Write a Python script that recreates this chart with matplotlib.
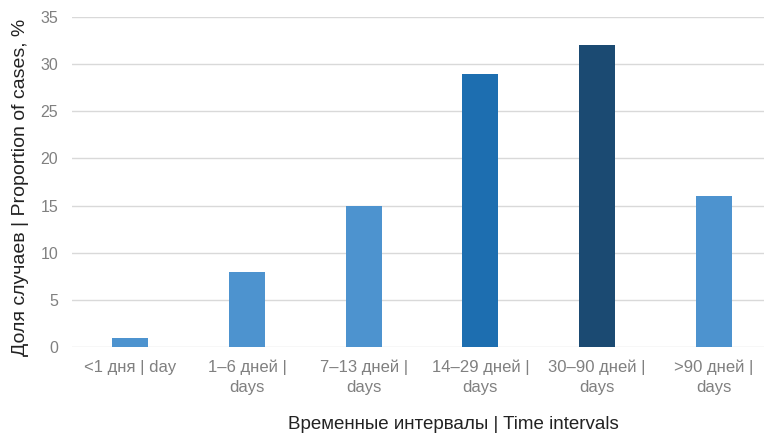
import matplotlib.pyplot as plt

plt.rcParams['font.family'] = ['Liberation Sans', 'DejaVu Sans']

categories = ['<1 дня | day', '1–6 дней |\ndays', '7–13 дней |\ndays',
              '14–29 дней |\ndays', '30–90 дней |\ndays', '>90 дней |\ndays']
values = [1, 8, 15, 29, 32, 16]
colors = ['#4d93cf', '#4d93cf', '#4d93cf', '#1d6eb0', '#1b4a72', '#4d93cf']

fig = plt.figure(figsize=(7.64, 4.36), dpi=100)
ax = fig.add_axes([72 / 764, (436 - 347) / 436, 700 / 764, 330 / 436])

x = range(len(categories))
ax.bar(x, values, width=0.31, color=colors, zorder=3)

ax.set_xlim(-0.5, len(categories) - 0.5)
ax.set_ylim(0, 35)
ax.set_yticks(range(0, 36, 5))
ax.set_xticks(list(x))
ax.set_xticklabels(categories, fontsize=12, color='#808080', linespacing=1.45)
ax.tick_params(axis='y', labelsize=11.5, labelcolor='#808080', length=0, pad=10)
ax.tick_params(axis='x', length=0, pad=9)
ax.yaxis.grid(True, color='#d9d9d9', linewidth=1, zorder=0)
for s in ax.spines.values():
    s.set_visible(False)

ax.set_ylabel('Доля случаев | Proportion of cases, %', fontsize=14, color='#222222')
ax.yaxis.set_label_coords(-(72 - 21) / 700, (347 - 187) / 330)
ax.yaxis.label.set_va('center')
ax.set_xlabel('Временные интервалы | Time intervals', fontsize=13.5, color='#222222')
ax.xaxis.set_label_coords((453 - 72) / 700, -(424 - 347) / 330)
ax.xaxis.label.set_va('center')

fig.savefig('out.png', dpi=100)
